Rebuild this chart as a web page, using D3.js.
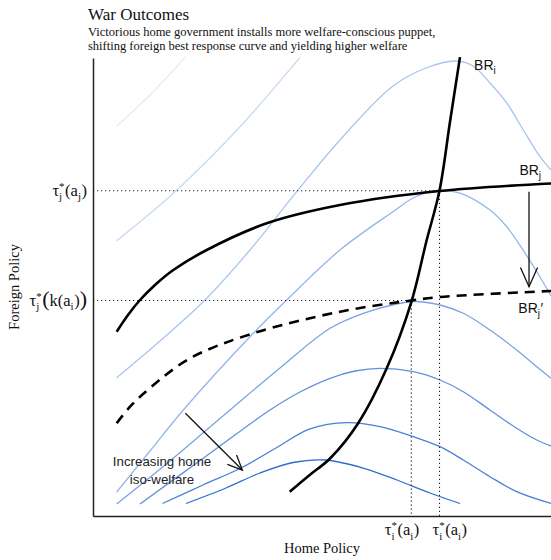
<!DOCTYPE html>
<html>
<head>
<meta charset="utf-8">
<script src="https://cdn.jsdelivr.net/npm/d3@7"></script>
<style>
  body { margin: 0; background: #fff; }
  svg { display: block; }
</style>
</head>
<body>
<svg id="chart" width="551" height="560"></svg>
<script>
// all curves in plot units: [home policy, foreign policy], 0-100 on both axes
// home iso-welfare curves, from lowest welfare (top left) to highest (bottom)
var iso1 = [[5.17,85.15],[12.45,91.92],[20.09,100.15]];
var iso2 = [[5.17,60.11],[17.9,70.81],[31.38,84.21],[45.2,100.15]];
var iso3 = [[5.17,30.2],[14.63,38.21],[24.45,47.16],[34.28,58.08],[44.48,70.81],[53.93,82.1],
            [65.5,93.89],[72.71,97.82],[79.26,99.34],[82.97,98.25],[86.68,94.54],[90.39,90.11],
            [93.95,84.28],[97.6,78.45],[100,75.55]];
var iso4 = [[5.17,5.24],[12.45,14.19],[19.72,23.14],[35.0,39.89],[42.29,47.16],[53.93,58.08],
            [65.5,66.44],[70.31,69.65],[75.11,71.07],[80.13,70.52],[86.68,66.81],[90.39,63.1],
            [93.89,58.08],[97.6,52.18],[100,48.03]];
var iso5 = [[5.17,2.62],[16.81,12.01],[29.91,23.14],[40.83,32.31],[51.75,40.98],[59.02,44.26],
            [66.31,46.29],[70.31,46.83],[75.76,46.07],[80.85,44.26],[86.68,40.61],[92.51,36.24],
            [96.88,32.6],[100,30.07]];
var iso6 = [[10.26,2.62],[24.45,12.88],[38.65,23.14],[45.2,27.07],[51.75,30.07],[57.21,31.66],
            [62.66,32.25],[69.93,31.51],[75.76,29.69],[80.85,27.14],[86.68,23.14],[92.51,19.15],
            [96.88,16.59],[100,15.28]];
var iso7 = [[15.17,2.73],[24.02,6.77],[32.31,10.48],[39.96,14.85],[47.38,19.0],[55.46,20.37],
            [62.66,19.5],[69.93,17.31],[75.76,15.13],[80.85,12.23],[86.68,8.58],[92.51,5.31],
            [100,2.73]];
var iso8 = [[20.31,2.73],[29.04,6.11],[36.46,9.39],[43.67,11.68],[50.66,12.23],[58.95,10.48],
            [66.38,7.86],[73.58,5.02],[80.13,2.73]];
var isoCurves = [iso1, iso2, iso3, iso4, iso5, iso6, iso7, iso8];
var isoColors = ["#e2ebf8","#c8d9f2","#aac5ed","#94b5e8","#7ba3e2","#6191dc","#4880d6","#2f6ed0"];

// best response curves
var brI = [[42.95,5.31],[47.31,8.95],[51.75,12.55],[57.93,20.31],[64.13,32.25],[69.54,46.83],
           [72.77,59.89],[75.66,71.07],[77.95,86.09],[80.13,100.2]];
var brJ = [[5.17,40.24],[7.64,43.89],[10.26,47.16],[13.54,50.44],[17.53,53.71],[24.83,58.08],
           [37.93,63.91],[53.93,67.9],[75.66,70.96],[100,72.6]];
var brJprime = [[5.17,20.24],[8.08,23.86],[12.45,27.95],[21.18,34.43],[35.0,39.89],[53.93,44.61],
                [69.43,47.05],[75.76,47.82],[100,49.13]];

// equilibria: [home, foreign]
var eqBefore = [75.66, 71.0];
var eqAfter = [69.5, 47.05];

// annotation arrows: [from, to]
var shiftArrow = [[95.2,70.8],[95.2,50.07]];
var welfareArrow = [[20.17,22.42],[32.6,10.04]];

var yTickLabels = [
  [{t:"τ"},{sup:"*",sub:"j"},{t:"(a"},{sub:"j"},{t:")"}],
  [{t:"τ"},{sup:"*",sub:"j"},{t:"(",big:true},{t:"k(a"},{sub:"i"},{t:")"},{t:")",big:true}]
];
var xTickLabels = [
  [{t:"τ"},{sup:"*",sub:"i"},{t:"(a"},{sub:"i"},{t:")"}],
  [{t:"τ"},{sup:"*",sub:"i"},{t:"(a"},{sub:"i"},{t:")"}]
];
var brLabels = [
  {pos:[83.2,97.4], parts:[{t:"BR"},{sub:"i"}]},
  {pos:[93.1,74.45], parts:[{t:"BR"},{sub:"j"}]},
  {pos:[92.86,44.26], parts:[{t:"BR"},{sub:"j"},{t:"′"}]}
];
var noteLines = ["Increasing home", "iso-welfare"];
var notePos = [[15.07,10.98],[15.07,6.92]];

var serif = "'Palatino Linotype', Palatino, 'Book Antiqua', 'Liberation Serif', serif";
var sans = "'Liberation Sans', Arial, sans-serif";

var svg = d3.select("#chart");
var margin = {top: 58, right: 0, bottom: 44, left: 93};
var width = 551 - margin.left - margin.right,
    height = 560 - margin.top - margin.bottom;
var g = svg.append("g").attr("transform", "translate(" + margin.left + "," + margin.top + ")");

var x = d3.scaleLinear().domain([0, 100]).range([0, width]);
var y = d3.scaleLinear().domain([0, 100]).range([height, 0]);

svg.append("defs").append("clipPath").attr("id", "plot")
  .append("rect").attr("x", 0).attr("y", -2).attr("width", width).attr("height", height + 2);

var line = d3.line()
  .x(function(d) { return x(d[0]); })
  .y(function(d) { return y(d[1]); })
  .curve(d3.curveCatmullRom.alpha(0.5));

// title
svg.append("text").attr("x", 88).attr("y", 20)
  .attr("font-family", serif).attr("font-size", 17).attr("fill", "#111")
  .text("War Outcomes");
svg.append("text").attr("x", 88).attr("y", 36)
  .attr("font-family", serif).attr("font-size", 12.5).attr("fill", "#111")
  .text("Victorious home government installs more welfare-conscious puppet,");
svg.append("text").attr("x", 88).attr("y", 49.5)
  .attr("font-family", serif).attr("font-size", 12.5).attr("fill", "#111")
  .text("shifting foreign best response curve and yielding higher welfare");

var plot = g.append("g").attr("clip-path", "url(#plot)");

// iso-welfare curves
plot.selectAll(".iso").data(isoCurves).enter().append("path")
  .attr("class", "iso")
  .attr("d", line)
  .attr("fill", "none")
  .attr("stroke", function(d, i) { return isoColors[i]; })
  .attr("stroke-width", 1.3);

// dotted guides
var guides = [
  [[0, eqBefore[1]], eqBefore], [eqBefore, [eqBefore[0], 0]],
  [[0, eqAfter[1]], eqAfter], [eqAfter, [eqAfter[0], 0]]
];
g.selectAll(".guide").data(guides).enter().append("line")
  .attr("x1", function(d) { return x(d[0][0]); })
  .attr("y1", function(d) { return y(d[0][1]); })
  .attr("x2", function(d) { return x(d[1][0]); })
  .attr("y2", function(d) { return y(d[1][1]); })
  .attr("stroke", "#222").attr("stroke-width", 1.1)
  .attr("stroke-dasharray", "1.2,2.8");

// best response curves
g.append("path").datum(brJprime).attr("d", line)
  .attr("fill", "none").attr("stroke", "#000").attr("stroke-width", 2.6)
  .attr("stroke-dasharray", "10,7");
g.append("path").datum(brJ).attr("d", line)
  .attr("fill", "none").attr("stroke", "#000").attr("stroke-width", 2.6);
g.append("path").datum(brI).attr("d", line)
  .attr("fill", "none").attr("stroke", "#000").attr("stroke-width", 2.6);

// arrows with open heads
function arrow(a, headLen, spread) {
  var x1 = x(a[0][0]), y1 = y(a[0][1]), x2 = x(a[1][0]), y2 = y(a[1][1]);
  var ang = Math.atan2(y2 - y1, x2 - x1);
  g.append("line").attr("x1", x1).attr("y1", y1).attr("x2", x2).attr("y2", y2)
    .attr("stroke", "#111").attr("stroke-width", 1.3);
  var p = d3.path();
  p.moveTo(x2 - headLen * Math.cos(ang - spread), y2 - headLen * Math.sin(ang - spread));
  p.lineTo(x2, y2);
  p.lineTo(x2 - headLen * Math.cos(ang + spread), y2 - headLen * Math.sin(ang + spread));
  g.append("path").attr("d", p.toString()).attr("fill", "none")
    .attr("stroke", "#111").attr("stroke-width", 1.3);
}
arrow(shiftArrow, 21, 0.42);
arrow(welfareArrow, 16, 0.42);

// axes: just the two lines, no ticks
g.append("g").attr("transform", "translate(0," + height + ")")
  .call(d3.axisBottom(x).tickValues([]).tickSizeOuter(0))
  .select(".domain").attr("stroke", "#222").attr("stroke-width", 1.5);
g.append("g")
  .call(d3.axisLeft(y).tickValues([]).tickSizeOuter(0))
  .select(".domain").attr("stroke", "#222").attr("stroke-width", 1.5);

// text with stacked sub/superscripts
function richLabel(parent, px, py, parts, o) {
  var grp = parent.append("g").attr("font-family", o.font).attr("fill", o.color);
  var cx = 0;
  parts.forEach(function(p) {
    if (p.t) {
      var t = grp.append("text").attr("x", cx).attr("y", 0)
        .attr("font-size", p.big ? o.big : o.size).text(p.t);
      cx += t.node().getComputedTextLength();
    } else {
      var w = 0;
      if (p.sup) {
        var s = grp.append("text").attr("x", cx).attr("y", -o.supShift)
          .attr("font-size", o.small).text(p.sup);
        w = Math.max(w, s.node().getComputedTextLength());
      }
      if (p.sub) {
        var b = grp.append("text").attr("x", cx).attr("y", o.subShift)
          .attr("font-size", o.small).text(p.sub);
        w = Math.max(w, b.node().getComputedTextLength());
      }
      cx += w + 0.5;
    }
  });
  var shift = o.anchor === "end" ? -cx : (o.anchor === "middle" ? -cx / 2 : 0);
  grp.attr("transform", "translate(" + (px + shift) + "," + py + ")");
}

var tickStyle = {font: serif, color: "#111", size: 16.5, small: 11, big: 22, supShift: 6, subShift: 4.5};
richLabel(g, -6, y(eqBefore[1]) + 5, yTickLabels[0], Object.assign({anchor: "end"}, tickStyle));
richLabel(g, -6, y(eqAfter[1]) + 5, yTickLabels[1], Object.assign({anchor: "end"}, tickStyle));
richLabel(g, x(eqAfter[0]) + 8, height + 19, xTickLabels[0], Object.assign({anchor: "end"}, tickStyle));
richLabel(g, x(eqBefore[0]) - 7, height + 19, xTickLabels[1], Object.assign({anchor: "start"}, tickStyle));

var brStyle = {font: sans, color: "#111", size: 14, small: 10, big: 14, supShift: 6, subShift: 4, anchor: "start"};
brLabels.forEach(function(l) {
  richLabel(g, x(l.pos[0]), y(l.pos[1]), l.parts, brStyle);
});

g.selectAll(".note").data(noteLines).enter().append("text")
  .attr("x", function(d, i) { return x(notePos[i][0]); })
  .attr("y", function(d, i) { return y(notePos[i][1]); })
  .attr("text-anchor", "middle")
  .attr("font-family", sans).attr("font-size", 13.3).attr("fill", "#222")
  .text(function(d) { return d; });

// axis titles
svg.append("text")
  .attr("transform", "translate(19," + (margin.top + height / 2) + ") rotate(-90)")
  .attr("text-anchor", "middle")
  .attr("font-family", serif).attr("font-size", 14.5).attr("fill", "#111")
  .text("Foreign Policy");
svg.append("text")
  .attr("x", margin.left + width / 2).attr("y", 553)
  .attr("text-anchor", "middle")
  .attr("font-family", serif).attr("font-size", 14.5).attr("fill", "#111")
  .text("Home Policy");
</script>
</body>
</html>
